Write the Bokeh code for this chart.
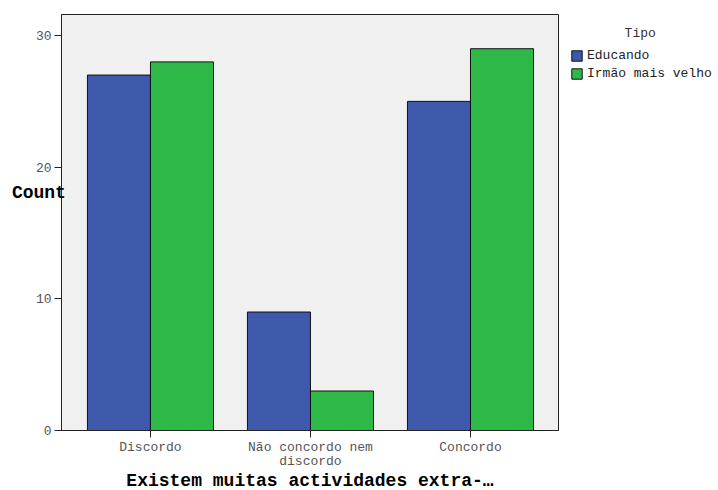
from bokeh.plotting import figure
from bokeh.models import Range1d, FixedTicker, Legend, LegendItem, ColumnDataSource
from bokeh.embed import file_html
from bokeh.resources import INLINE

categories = ["Discordo", "Não concordo nem\ndiscordo", "Concordo"]
series = ["Educando", "Irmão mais velho"]
educando = [27, 9, 25]
irmao = [28, 3, 29]
colors = ["#3e58ac", "#2eb848"]
y_ticks = [0, 10, 20, 30]

FONT = "Liberation Mono"

p = figure(frame_width=497, frame_height=416, output_backend="svg", toolbar_location=None,
           x_range=Range1d(0.444, 3.55), y_range=Range1d(0, 31.6),
           min_border_left=61, min_border_right=0, min_border_top=14, min_border_bottom=56)
p.background_fill_color = "#f0f0f0"
p.border_fill_color = "white"
p.outline_line_color = "#222222"
p.outline_line_width = 1
p.xgrid.visible = False
p.ygrid.visible = False

xs = list(range(1, len(categories) + 1))
bw = 0.394
src1 = ColumnDataSource(dict(x=[x - bw / 2 for x in xs], top=educando))
src2 = ColumnDataSource(dict(x=[x + bw / 2 for x in xs], top=irmao))
r1 = p.vbar(x="x", top="top", width=bw, bottom=0, source=src1, fill_color=colors[0], line_color="#111111", line_width=1)
r2 = p.vbar(x="x", top="top", width=bw, bottom=0, source=src2, fill_color=colors[1], line_color="#111111", line_width=1)

p.xaxis.ticker = FixedTicker(ticks=xs)
p.xaxis.major_label_overrides = {x: c for x, c in zip(xs, categories)}
p.yaxis.ticker = FixedTicker(ticks=y_ticks)
for ax in (p.xaxis[0], p.yaxis[0]):
    ax.major_label_text_font = FONT
    ax.major_label_text_font_size = "13px"
    ax.major_label_text_color = "#555555"
    ax.axis_line_color = "#222222"
    ax.major_tick_line_color = "#222222"
    ax.major_tick_out = 7
    ax.major_tick_in = 0
    ax.minor_tick_out = 0
    ax.minor_tick_in = 0
p.xaxis.major_label_standoff = 2
p.xaxis.major_label_text_line_height = 0.95
p.yaxis.major_label_standoff = 3

p.xaxis.axis_label = "Existem muitas actividades extra-…"
p.xaxis.axis_label_text_font = FONT
p.xaxis.axis_label_text_font_style = "bold"
p.xaxis.axis_label_text_font_size = "18px"
p.xaxis.axis_label_text_color = "black"
p.xaxis.axis_label_standoff = -1

p.yaxis.axis_label = "Count\n\n\n"
p.yaxis.axis_label_orientation = "horizontal"
p.yaxis.axis_label_text_font = FONT
p.yaxis.axis_label_text_font_style = "bold"
p.yaxis.axis_label_text_font_size = "18px"
p.yaxis.axis_label_text_line_height = 1.0
p.yaxis.axis_label_text_color = "black"
p.yaxis.axis_label_standoff = -33

legend = Legend(items=[LegendItem(label=series[0], renderers=[r1]),
                       LegendItem(label=series[1], renderers=[r2])],
                location="top_left", orientation="vertical",
                title="\u00a0" * 7 + "Tipo")
legend.title_text_font = FONT
legend.title_text_font_size = "13px"
legend.title_text_font_style = "normal"
legend.title_text_color = "#333333"
legend.title_standoff = 7
legend.label_text_font = FONT
legend.label_text_font_size = "13px"
legend.label_text_color = "#222222"
legend.glyph_width = 13
legend.glyph_height = 13
legend.label_height = 13
legend.label_standoff = 4
legend.spacing = 3
legend.padding = 0
legend.margin = 12
legend.border_line_color = None
legend.background_fill_alpha = 0
p.add_layout(legend, "right")

open("out.html", "w").write(file_html(p, INLINE))
